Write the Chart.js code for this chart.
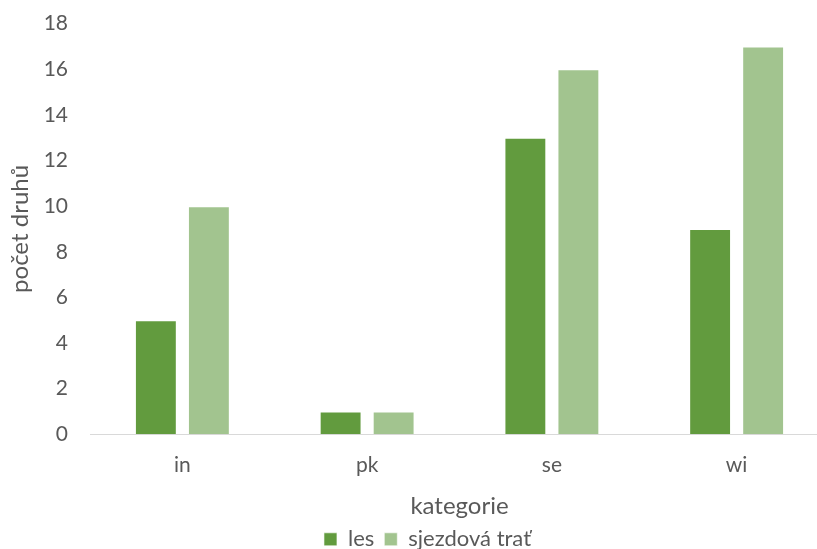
<!DOCTYPE html>
<html>
<head>
<meta charset="utf-8">
<script src="https://cdn.jsdelivr.net/npm/chart.js@4/dist/chart.umd.min.js"></script>
<style>
  html, body { margin: 0; padding: 0; background: #fff; overflow: hidden; }
  #wrap { position: relative; width: 850px; height: 549px; }
</style>
</head>
<body>
<div id="wrap"><canvas id="c"></canvas></div>
<script>
// Kategorie a počty druhů pro obě stanoviště
const categories = ['in', 'pk', 'se', 'wi'];
const lesValues = [5, 1, 13, 9];
const trateValues = [10, 1, 16, 17];
const seriesNames = ['les', 'sjezdová trať'];
const yTicks = [0, 2, 4, 6, 8, 10, 12, 14, 16, 18];

const FONT = 'Lato, "Open Sans", sans-serif';
const TEXT = '#595959';

new Chart(document.getElementById('c'), {
  type: 'bar',
  data: {
    labels: categories,
    datasets: [
      { label: seriesNames[0], data: lesValues, backgroundColor: '#629B3E',
        borderColor: 'rgba(255,255,255,0.6)', borderWidth: 1,
        categoryPercentage: 0.574, barPercentage: 0.79 },
      { label: seriesNames[1], data: trateValues, backgroundColor: '#A2C48F',
        borderColor: 'rgba(255,255,255,0.6)', borderWidth: 1,
        categoryPercentage: 0.574, barPercentage: 0.79 }
    ]
  },
  options: {
    responsive: true,
    maintainAspectRatio: false,
    animation: false,
    layout: { padding: { top: 23.6, right: 21, left: 26, bottom: -11.3 } },
    plugins: {
      tooltip: { enabled: false },
      legend: {
        position: 'bottom',
        labels: {
          font: { family: FONT, size: 22 },
          color: TEXT,
          boxWidth: 13, boxHeight: 13,
          padding: 10
        }
      }
    },
    scales: {
      x: {
        grid: { display: false, drawTicks: false },
        border: { display: true, color: '#D9D9D9', width: 1 },
        ticks: { font: { family: FONT, size: 21 }, color: TEXT, padding: 18.5 },
        title: { display: true, text: 'kategorie', font: { family: FONT, size: 24 },
                 color: TEXT, padding: { top: 0, bottom: -2 } },
        afterFit: (s) => { s.height = 84; }
      },
      y: {
        min: 0, max: 18,
        afterBuildTicks: (s) => { s.ticks = yTicks.map(v => ({ value: v })); },
        grid: { display: false, drawTicks: false },
        border: { display: false },
        ticks: { font: { family: FONT, size: 21 }, color: TEXT, padding: 22 },
        title: { display: true, text: 'počet druhů', font: { family: FONT, size: 24 },
                 color: TEXT, padding: { top: -20, bottom: 0 } },
        afterFit: (s) => { s.width = 64; s.paddingTop = 0; s.paddingBottom = 0; }
      }
    }
  }
});
</script>
</body>
</html>
